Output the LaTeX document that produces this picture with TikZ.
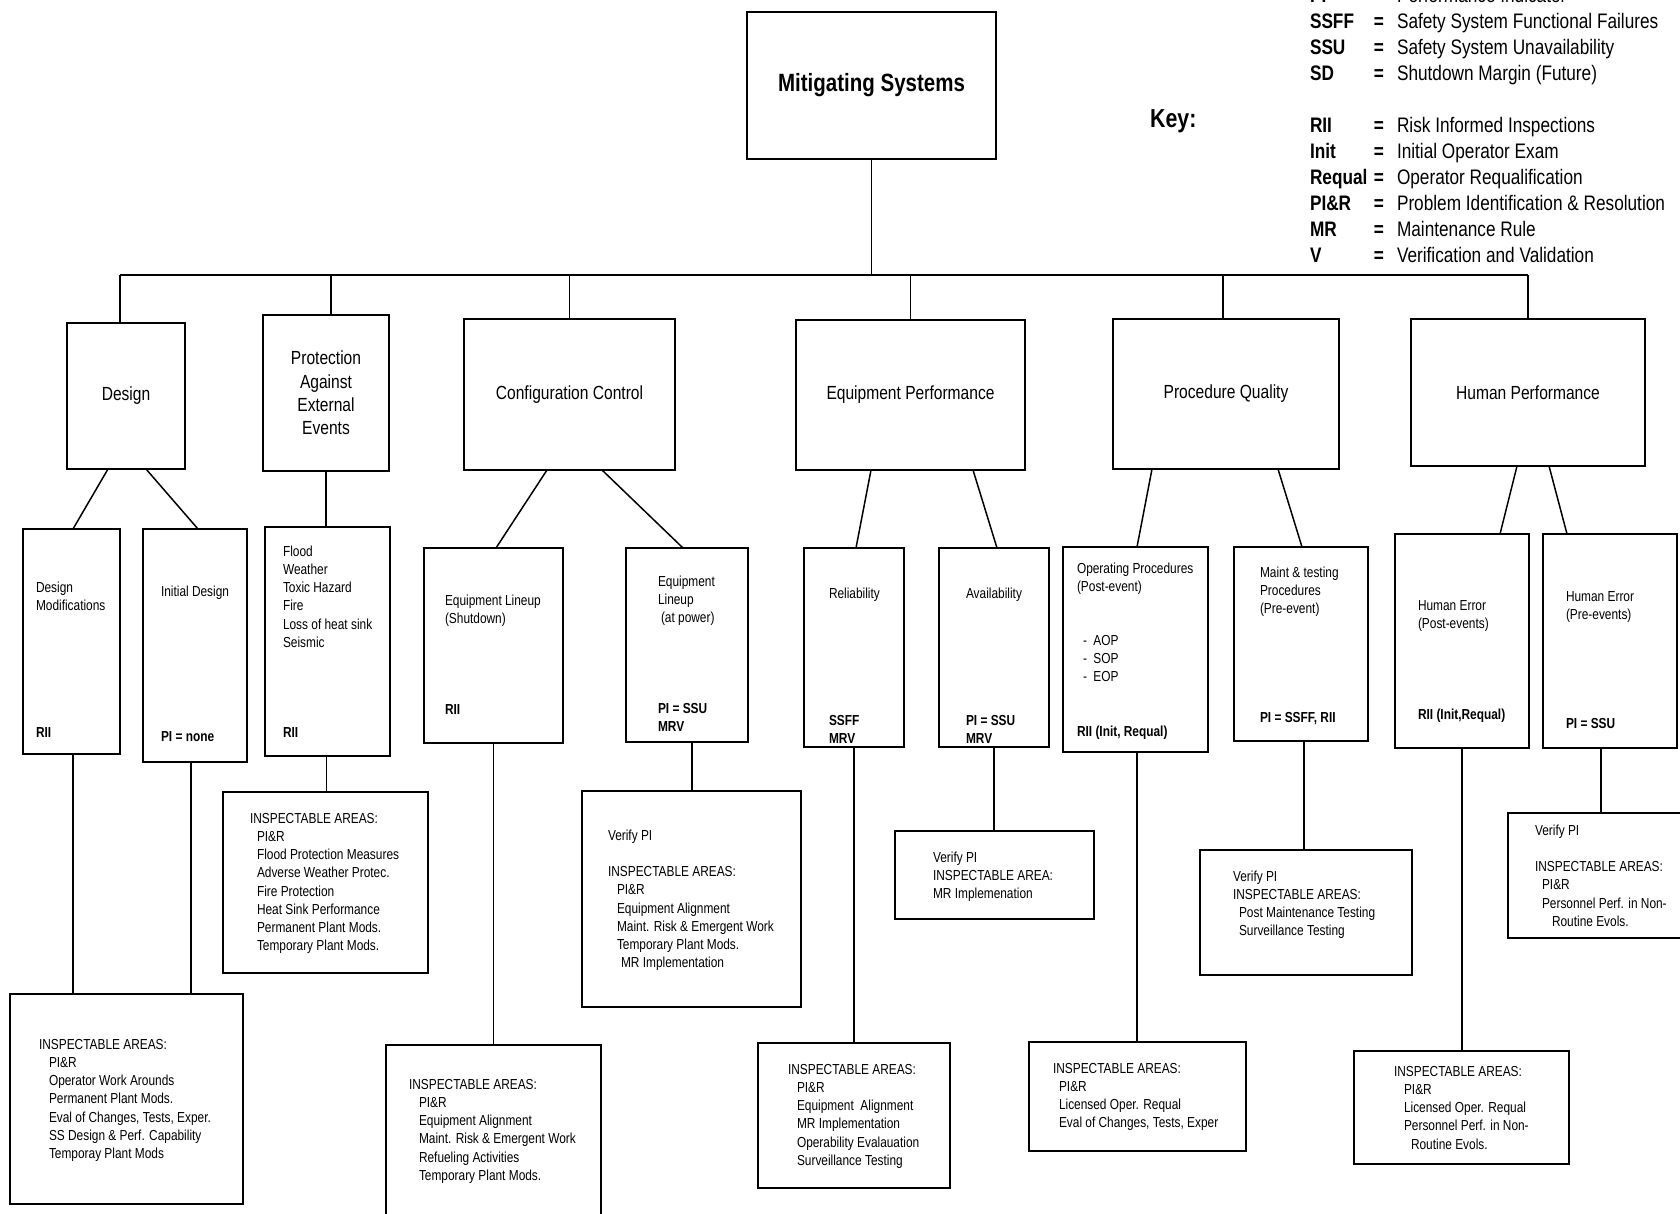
\documentclass[tikz,border=0pt]{standalone}
\usepackage{fontspec}
\setmainfont{Liberation Sans}[FakeStretch=0.82]
\newcommand\ind[1]{\hspace*{#1pt}}
\newcommand\fsmall{\fontsize{14.5}{18.2}\selectfont}
\newcommand\fmid{\fontsize{19}{23.2}\selectfont}
\newcommand\ftitle{\fontsize{25}{30}\selectfont\bfseries}
\newcommand\fkey{\fontsize{21}{26}\selectfont}
\newcommand\fkeyhead{\fontsize{26}{30}\selectfont\bfseries}
\begin{document}
\begin{tikzpicture}[x=1pt,y=-1pt,
  box/.style={draw, line width=2pt, inner sep=0pt, outer sep=0pt, anchor=north west},
  conn/.style={line width=1.5pt},
  txt/.style={inner sep=0pt, outer sep=0pt, anchor=north west, align=left, font=\fsmall},
  btxt/.style={txt, font=\fsmall\bfseries},
  mid/.style={inner sep=0pt, outer sep=0pt, align=center, font=\fmid},
  keytxt/.style={inner sep=0pt, outer sep=0pt, anchor=north west, align=left, font=\fkey}]
\useasboundingbox (0,0) rectangle (1680,1214);
\fill[white] (0,0) rectangle (1680,1214);
\clip (0,0) rectangle (1680,1214);

% ---------- top ----------
\node[box, minimum width=249pt, minimum height=147pt] (ms) at (747,12) {};
\node[inner sep=0pt, font=\ftitle] (mst) at (ms.center) {Mitigating Systems};

% ---------- key ----------
\node[inner sep=0pt, anchor=base west, font=\fkeyhead] (keyh) at (1150,128) {Key:};
\node[keytxt, font=\fkey\bfseries] (keyab) at (1310,-15.8)
  {\strut PI\\SSFF\\SSU\\SD\\\strut\\RII\\Init\\Requal\\PI\&R\\MR\\V};
\node[keytxt, anchor=north, align=center, font=\fkey\bfseries] (keyeq) at (1379,-15.8)
  {\strut =\\=\\=\\=\\\strut\\=\\=\\=\\=\\=\\=};
\node[keytxt] (keydef) at (1397,-15.8)
  {\strut Performance Indicator\\Safety System Functional Failures\\Safety System Unavailability\\Shutdown Margin (Future)\\\strut\\Risk Informed Inspections\\Initial Operator Exam\\Operator Requalification\\Problem Identification \& Resolution\\Maintenance Rule\\Verification and Validation};

% ---------- level 1 ----------
\node[box, minimum width=118pt, minimum height=146pt] (design) at (67,323) {};
\node[box, minimum width=126pt, minimum height=156pt] (prot) at (263,315) {};
\node[box, minimum width=211pt, minimum height=151pt] (cc) at (464,319) {};
\node[box, minimum width=229pt, minimum height=150pt] (ep) at (796,320) {};
\node[box, minimum width=226pt, minimum height=150pt] (pq) at (1113,319) {};
\node[box, minimum width=234pt, minimum height=147pt] (hp) at (1411,319) {};
\node[mid] (designt) at (design.center) {Design};
\node[mid] (prott) at (prot.center) {Protection\\Against\\External\\Events};
\node[mid] (cct) at (cc.center) {Configuration Control};
\node[mid] (ept) at (ep.center) {Equipment Performance};
\node[mid] (pqt) at (pq.center) {Procedure Quality};
\node[mid] (hpt) at (hp.center) {Human Performance};

% ---------- level 2 ----------
\node[box, minimum width=97pt, minimum height=225pt] (dm) at (23,529) {};
\node[box, minimum width=104pt, minimum height=233pt] (id) at (143,529) {};
\node[box, minimum width=125pt, minimum height=229pt] (fl) at (265,527) {};
\node[box, minimum width=139pt, minimum height=195pt] (els) at (424,548) {};
\node[box, minimum width=122pt, minimum height=194pt] (elp) at (626,548) {};
\node[box, minimum width=100pt, minimum height=199pt] (rel) at (804,548) {};
\node[box, minimum width=110pt, minimum height=199pt] (avl) at (939,548) {};
\node[box, minimum width=145pt, minimum height=205pt] (op) at (1063,547) {};
\node[box, minimum width=134pt, minimum height=194pt] (mt) at (1234,547) {};
\node[box, minimum width=134pt, minimum height=214pt] (hepost) at (1395,534) {};
\node[box, minimum width=134pt, minimum height=214pt] (hepre) at (1543,534) {};

\node[txt] (dmt) at (36,579.5) {\strut Design\\Modifications};
\node[btxt] (dmb) at (36,724.5) {\strut RII};
\node[txt] (idt) at (161,583.5) {\strut Initial Design};
\node[btxt] (idb) at (161,728.5) {\strut PI = none};
\node[txt] (flt) at (283,543.5) {\strut Flood\\Weather\\Toxic Hazard\\Fire\\Loss of heat sink\\Seismic};
\node[btxt] (flb) at (283,724.5) {\strut RII};
\node[txt] (elst) at (445,592.5) {\strut Equipment Lineup\\(Shutdown)};
\node[btxt] (elsb) at (445,701.5) {\strut RII};
\node[txt] (elpt) at (658,573.5) {\strut Equipment\\Lineup\\\ind{3}(at power)};
\node[btxt] (elpb) at (658,700.5) {\strut PI = SSU\\MRV};
\node[txt] (relt) at (829,585.5) {\strut Reliability};
\node[btxt] (relb) at (829,712.5) {\strut SSFF\\MRV};
\node[txt] (avlt) at (966,585.5) {\strut Availability};
\node[btxt] (avlb) at (966,712.5) {\strut PI = SSU\\MRV};
\node[txt] (opt) at (1077,560.5) {\strut Operating Procedures\\(Post-event)};
\node[txt] (opl) at (1083,632.5) {\strut -\hspace{6.5pt}AOP\\-\hspace{6.5pt}SOP\\-\hspace{6.5pt}EOP};
\node[btxt] (opb) at (1077,723.5) {\strut RII (Init, Requal)};
\node[txt] (mtt) at (1260,564.5) {\strut Maint \& testing\\Procedures\\(Pre-event)};
\node[btxt] (mtb) at (1260,709.5) {\strut PI = SSFF, RII};
\node[txt] (hepostt) at (1418,597.5) {\strut Human Error\\(Post-events)};
\node[btxt] (hepostb) at (1418,706.5) {\strut RII (Init,Requal)};
\node[txt] (hepret) at (1566,588.5) {\strut Human Error\\(Pre-events)};
\node[btxt] (hepreb) at (1566,715.5) {\strut PI = SSU};

% ---------- level 3 ----------
\node[box, minimum width=233pt, minimum height=210pt] (dbot) at (10,994) {};
\node[box, minimum width=205pt, minimum height=181pt] (protinsp) at (223,792) {};
\node[box, minimum width=215pt, minimum height=190pt] (elsinsp) at (386,1045) {};
\node[box, minimum width=219pt, minimum height=216pt] (elpver) at (582,791) {};
\node[box, minimum width=192pt, minimum height=145pt] (relinsp) at (758,1043) {};
\node[box, minimum width=199pt, minimum height=88pt] (avlver) at (895,831) {};
\node[box, minimum width=217pt, minimum height=109pt] (opinsp) at (1029,1042) {};
\node[box, minimum width=212pt, minimum height=125pt] (mtver) at (1200,850) {};
\node[box, minimum width=215pt, minimum height=113pt] (hepostinsp) at (1354,1051) {};
\node[box, minimum width=192pt, minimum height=125pt] (hepreVer) at (1508,813) {};

\node[txt] (dbott) at (39,1036.5) {\strut INSPECTABLE AREAS:\\\ind{10}PI\&R\\\ind{10}Operator Work Arounds\\\ind{10}Permanent Plant Mods.\\\ind{10}Eval of Changes, Tests, Exper.\\\ind{10}SS Design \& Perf. Capability\\\ind{10}Temporay Plant Mods};
\node[txt] (protinspt) at (250,810.5) {\strut INSPECTABLE AREAS:\\\ind{7}PI\&R\\\ind{7}Flood Protection Measures\\\ind{7}Adverse Weather Protec.\\\ind{7}Fire Protection\\\ind{7}Heat Sink Performance\\\ind{7}Permanent Plant Mods.\\\ind{7}Temporary Plant Mods.};
\node[txt] (elsinspt) at (409,1076.5) {\strut INSPECTABLE AREAS:\\\ind{10}PI\&R\\\ind{10}Equipment Alignment\\\ind{10}Maint. Risk \& Emergent Work\\\ind{10}Refueling Activities\\\ind{10}Temporary Plant Mods.};
\node[txt] (elpvert) at (608,827.5) {\strut Verify PI\\\strut\\INSPECTABLE AREAS:\\\ind{9}PI\&R\\\ind{9}Equipment Alignment\\\ind{9}Maint. Risk \& Emergent Work\\\ind{9}Temporary Plant Mods.\\\ind{13}MR Implementation};
\node[txt] (relinspt) at (788,1061.5) {\strut INSPECTABLE AREAS:\\\ind{9}PI\&R\\\ind{9}Equipment\ \ Alignment\\\ind{9}MR Implementation\\\ind{9}Operability Evalauation\\\ind{9}Surveillance Testing};
\node[txt] (avlvert) at (933,849.5) {\strut Verify PI\\INSPECTABLE AREA:\\MR Implemenation};
\node[txt] (opinspt) at (1053,1060.5) {\strut INSPECTABLE AREAS:\\\ind{6}PI\&R\\\ind{6}Licensed Oper. Requal\\\ind{6}Eval of Changes, Tests, Exper};
\node[txt] (mtvert) at (1233,868.5) {\strut Verify PI\\INSPECTABLE AREAS:\\\ind{6}Post Maintenance Testing\\\ind{6}Surveillance Testing};
\node[txt] (hepostinspt) at (1394,1063.5) {\strut INSPECTABLE AREAS:\\\ind{10}PI\&R\\\ind{10}Licensed Oper. Requal\\\ind{10}Personnel Perf. in Non-\\\ind{17}Routine Evols.};
\node[txt] (hepreVert) at (1535,822.5) {\strut Verify PI\\\strut\\INSPECTABLE AREAS:\\\ind{7}PI\&R\\\ind{7}Personnel Perf. in Non-\\\ind{17}Routine Evols.};

% ---------- connectors ----------
\coordinate (busL) at (120,275);
\coordinate (busR) at (1528,275);
\draw[conn] (ms.south) -- (ms.south |- busL);
\draw[conn] (busL) -- (busR);
\draw[conn] (busL) -- (busL |- design.north);
\draw[conn] ([xshift=5pt]prot.north) -- ([xshift=5pt]prot.north |- busL);
\draw[conn] (cc.north) -- (cc.north |- busL);
\draw[conn] (ep.north) -- (ep.north |- busL);
\draw[conn] ([xshift=-3pt]pq.north) -- ([xshift=-3pt]pq.north |- busL);
\draw[conn] (hp.north) -- (busR);

\draw[conn] ([xshift=41pt]design.south west) -- ([xshift=50pt]dm.north west);
\draw[conn] ([xshift=79pt]design.south west) -- ([xshift=55pt]id.north west);
\draw[conn] (prot.south) -- (prot.south |- fl.north);
\draw[conn] ([xshift=83pt]cc.south west) -- ([xshift=72pt]els.north west);
\draw[conn] ([xshift=138pt]cc.south west) -- ([xshift=57pt]elp.north west);
\draw[conn] ([xshift=75pt]ep.south west) -- ([xshift=52pt]rel.north west);
\draw[conn] ([xshift=177pt]ep.south west) -- ([xshift=58pt]avl.north west);
\draw[conn] ([xshift=39pt]pq.south west) -- ([xshift=74pt]op.north west);
\draw[conn] ([xshift=165pt]pq.south west) -- ([xshift=68pt]mt.north west);
\draw[conn] ([xshift=106pt]hp.south west) -- ([xshift=105pt]hepost.north west);
\draw[conn] ([xshift=138pt]hp.south west) -- ([xshift=24pt]hepre.north west);

\draw[conn] ([xshift=1.5pt]dm.south) -- ([xshift=1.5pt]dm.south |- dbot.north);
\draw[conn] ([xshift=-4pt]id.south) -- ([xshift=-4pt]id.south |- dbot.north);
\draw[conn] ([xshift=-1pt]fl.south) -- ([xshift=-1pt]fl.south |- protinsp.north);
\draw[conn] (els.south) -- (els.south |- elsinsp.north);
\draw[conn] ([xshift=5pt]elp.south) -- ([xshift=5pt]elp.south |- elpver.north);
\draw[conn] (rel.south) -- (rel.south |- relinsp.north);
\draw[conn] (avl.south) -- (avl.south |- avlver.north);
\draw[conn] ([xshift=1.5pt]op.south) -- ([xshift=1.5pt]op.south |- opinsp.north);
\draw[conn] ([xshift=3pt]mt.south) -- ([xshift=3pt]mt.south |- mtver.north);
\draw[conn] (hepost.south) -- (hepost.south |- hepostinsp.north);
\draw[conn] ([xshift=-9pt]hepre.south) -- ([xshift=-9pt]hepre.south |- hepreVer.north);
\end{tikzpicture}
\end{document}
